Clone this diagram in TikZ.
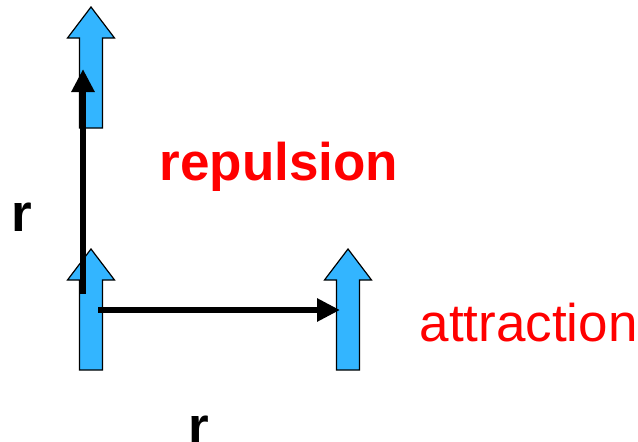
\documentclass[tikz,border=0pt]{standalone}
\usepackage{fontspec}
\setmainfont{Liberation Sans}
\usetikzlibrary{arrows.meta}
\definecolor{spinblue}{RGB}{51,181,255}
\definecolor{labelred}{RGB}{255,0,0}
\begin{document}
\begin{tikzpicture}[x=1pt,y=-1pt,
  blockfill/.style={fill=spinblue,draw=black,line width=1.2pt,line join=miter},
  blockup/.pic={\path[blockfill] (-11.5,0) -- (-11.5,-90) -- (-23.5,-90) -- (0,-121) -- (23.5,-90) -- (11.5,-90) -- (11.5,0) -- cycle;},
  vec/.style={line width=6.5pt,-{Triangle[length=23pt,width=22pt]}},
  lbl/.style={inner sep=0pt,anchor=base west,font=\fontsize{53}{60}\selectfont},
  redbold/.style={lbl,text=labelred,font=\fontsize{53}{60}\selectfont\bfseries},
  redreg/.style={lbl,text=labelred},
  blackbold/.style={lbl,text=black,font=\fontsize{53}{60}\selectfont\bfseries}]
\useasboundingbox (0,0) rectangle (638,442);
% spins
\pic (spintop) at (91,128) {blockup};
\pic (spinleft) at (91,370) {blockup};
\pic (spinright) at (348,370) {blockup};
% vector ends
\coordinate (vstart) at (83,294);
\coordinate (vend) at (83,69);
\coordinate (hstart) at (98,310);
\coordinate (hend) at (340,310);
\draw[vec] (vstart) -- (vend);
\draw[vec] (hstart) -- (hend);
% labels
\node[redbold] (rep) at (159.5,180) {repulsion};
\node[redreg] (att) at (419.5,341.5) {attraction};
\node[blackbold] (rleft) at (11.5,231.5) {r};
\node[blackbold] (rbottom) at (188,444) {r};
\end{tikzpicture}
\end{document}
